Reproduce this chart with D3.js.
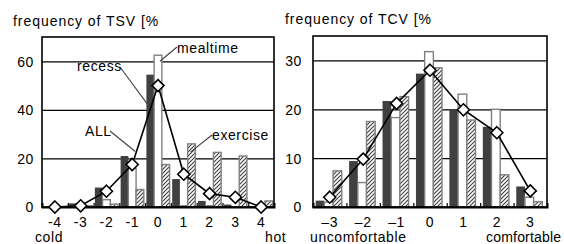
<!DOCTYPE html>
<html>
<head>
<meta charset="utf-8">
<script src="https://cdn.jsdelivr.net/npm/d3@7"></script>
<style>
  body { margin: 0; background: #fff; }
  svg { display: block; }
  text { font-family: "Liberation Sans", Arial, sans-serif; font-size: 14px; letter-spacing: 0.6px; fill: #000; }
  .title { letter-spacing: 0.95px; }
</style>
</head>
<body>
<div id="chart"></div>
<script>
// TSV chart (left)
var tsvCategories = ["-4", "-3", "-2", "-1", "0", "1", "2", "3", "4"];
var tsvRecess     = [0, 1.5, 8, 21, 54.5, 11.5, 2.5, 1, 0.3];
var tsvMealtime   = [0, 1, 3, 16, 62.5, 0.5, 0.5, 0, 0];
var tsvExercise   = [0, 0.5, 1.2, 7.2, 17.5, 26, 22.5, 21, 2.5];
var tsvAll        = [0, 0.5, 6.5, 17.5, 50, 13.5, 5.5, 4, 0];
var tsvTicks      = [0, 20, 40, 60];

// TCV chart (right)
var tcvCategories = ["\u20133", "\u20132", "\u20131", "0", "1", "2", "3"];
var tcvRecess     = [1.3, 9.4, 21.7, 27.3, 20, 16.4, 4.2];
var tcvMealtime   = [1, 5, 18.3, 31.8, 23.1, 20, 2];
var tcvExercise   = [7.4, 17.5, 22.6, 28.5, 17.8, 6.6, 1.1];
var tcvAll        = [2, 9.8, 21.2, 28, 19.9, 15.2, 3.3];
var tcvTicks      = [0, 10, 20, 30];

var width = 564, height = 244;

var svg = d3.select("#chart").append("svg")
    .attr("width", width)
    .attr("height", height);

var defs = svg.append("defs");

// diagonal hatch for "exercise"
var hatch = defs.append("pattern")
    .attr("id", "hatch")
    .attr("patternUnits", "userSpaceOnUse")
    .attr("width", 4)
    .attr("height", 4);
hatch.append("rect").attr("width", 4).attr("height", 4).attr("fill", "#fff");
hatch.append("path")
    .attr("d", "M-1,1 l2,-2 M0,4 l4,-4 M3,5 l2,-2")
    .attr("stroke", "#444")
    .attr("stroke-width", 1.2);

var diamond = "M0,-6L6,0L0,6L-6,0Z";

function drawChart(opt) {
  var g = svg.append("g");

  var x = d3.scaleBand()
      .domain(opt.categories)
      .range([opt.left, opt.right]);

  var y = d3.scaleLinear()
      .domain([0, opt.yMax])
      .range([opt.bottom, opt.top]);

  var barW = x.bandwidth() * opt.barFrac;

  // title, clipped like the original
  defs.append("clipPath").attr("id", "clip-" + opt.id)
    .append("rect")
      .attr("x", 0).attr("y", 0)
      .attr("width", opt.titleClip).attr("height", 40);

  g.append("text")
      .attr("class", "title")
      .attr("x", opt.titleX)
      .attr("y", opt.titleY)
      .attr("clip-path", "url(#clip-" + opt.id + ")")
      .text(opt.title);

  // gridlines
  g.append("g")
      .attr("transform", "translate(" + opt.left + ",0)")
      .call(d3.axisLeft(y)
        .tickValues(opt.ticks.filter(function(t) { return t > 0; }))
        .tickSize(-(opt.right - opt.left))
        .tickFormat(""))
      .call(function(a) {
        a.select(".domain").remove();
        a.selectAll("line").attr("stroke", "#000").attr("stroke-width", 1.3);
      });

  // y labels
  g.append("g")
      .attr("transform", "translate(" + opt.left + ",0)")
      .call(d3.axisLeft(y).tickValues(opt.ticks).tickSize(0).tickPadding(opt.yPad))
      .call(function(a) {
        a.select(".domain").remove();
        a.selectAll("text")
          .attr("font-size", 14)
          .attr("font-family", "Liberation Sans, Arial, sans-serif")
          .attr("dy", "0.35em");
      });

  var series = [
    { values: opt.recess, fill: "#404040", stroke: "none" },
    { values: opt.mealtime, fill: "#fff", stroke: "#808080" },
    { values: opt.exercise, fill: "url(#hatch)", stroke: "#808080" }
  ];

  series.forEach(function(s, k) {
    g.append("g").selectAll("rect")
        .data(s.values)
        .enter().append("rect")
        .attr("x", function(d, i) {
          return x(opt.categories[i]) + x.bandwidth() / 2 + (k - 1.5) * barW + opt.shift;
        })
        .attr("y", function(d) { return y(d); })
        .attr("width", barW)
        .attr("height", function(d) { return opt.bottom - y(d); })
        .attr("fill", s.fill)
        .attr("stroke", s.stroke)
        .attr("stroke-width", s.stroke === "none" ? 0 : 1.4);
  });

  // frame
  g.append("rect")
      .attr("x", opt.left)
      .attr("y", opt.top)
      .attr("width", opt.right - opt.left)
      .attr("height", opt.bottom - opt.top)
      .attr("fill", "none")
      .attr("stroke", "#000")
      .attr("stroke-width", 1.6);

  // inside tick marks between categories
  var bounds = d3.scaleLinear()
      .domain([0, opt.categories.length])
      .range([opt.left, opt.right]);
  g.append("g")
      .attr("transform", "translate(0," + opt.bottom + ")")
      .call(d3.axisBottom(bounds)
        .tickValues(d3.range(1, opt.categories.length))
        .tickSize(-4)
        .tickFormat(""))
      .call(function(a) {
        a.select(".domain").attr("stroke", "#000").attr("stroke-width", 2);
        a.selectAll("line").attr("stroke", "#000").attr("stroke-width", 1.2);
      });

  // category labels
  g.append("g")
      .attr("transform", "translate(0," + opt.bottom + ")")
      .call(d3.axisBottom(x).tickSize(0).tickPadding(10))
      .call(function(a) {
        a.select(".domain").remove();
        a.selectAll("text")
          .attr("font-size", 16)
          .attr("font-family", "Liberation Sans, Arial, sans-serif")
          .attr("dy", "0.71em");
      });

  // ALL line
  var line = d3.line()
      .x(function(d, i) { return x(opt.categories[i]) + x.bandwidth() / 2; })
      .y(function(d) { return y(d); });

  g.append("path")
      .datum(opt.all)
      .attr("d", line)
      .attr("fill", "none")
      .attr("stroke", "#000")
      .attr("stroke-width", 1.6);

  g.append("g").selectAll("path")
      .data(opt.all)
      .enter().append("path")
      .attr("d", diamond)
      .attr("transform", function(d, i) {
        return "translate(" + (x(opt.categories[i]) + x.bandwidth() / 2) + "," + y(d) + ")";
      })
      .attr("fill", "#fff")
      .attr("stroke", "#000")
      .attr("stroke-width", 1.6);

  // end labels under the axis
  opt.ends.forEach(function(e) {
    g.append("text")
        .attr("x", e.x)
        .attr("y", 242)
        .attr("text-anchor", e.anchor)
        .style("letter-spacing", e.spacing + "px")
        .text(e.text);
  });

  return { x: x, y: y, barW: barW };
}

var left = drawChart({
  id: "tsv",
  title: "frequency of TSV [%]",
  titleX: 13, titleY: 26, titleClip: 159,
  categories: tsvCategories,
  recess: tsvRecess, mealtime: tsvMealtime, exercise: tsvExercise, all: tsvAll,
  ticks: tsvTicks, yMax: 70,
  left: 42, right: 274, top: 37, bottom: 207,
  barFrac: 0.3, shift: 0, yPad: 8,
  ends: [{ text: "cold", x: 35, anchor: "start", spacing: 0.6 },
         { text: "hot", x: 265, anchor: "start", spacing: 0.6 }]
});

var right = drawChart({
  id: "tcv",
  title: "frequency of TCV [%]",
  titleX: 285, titleY: 24, titleClip: 432,
  categories: tcvCategories,
  recess: tcvRecess, mealtime: tcvMealtime, exercise: tcvExercise, all: tcvAll,
  ticks: tcvTicks, yMax: 35,
  left: 313, right: 547, top: 36, bottom: 207,
  barFrac: 0.26, shift: -1, yPad: 11,
  ends: [{ text: "uncomfortable", x: 310, anchor: "start", spacing: 0.6 },
         { text: "comfortable", x: 486, anchor: "start", spacing: 0.2 }]
});

// series callouts on the left chart
var lx = left.x, ly = left.y, lbw = left.barW;
var mid0 = lx("0") + lx.bandwidth() / 2;
var mid1 = lx("1") + lx.bandwidth() / 2;
var midm1 = lx("-1") + lx.bandwidth() / 2;

var callouts = [
  { text: "mealtime", tx: 177, ty: 53, x1: 177, y1: 47, x2: mid0 + 2, y2: ly(tsvMealtime[4]) + 6 },
  { text: "recess", tx: 77, ty: 71, x1: 120, y1: 67, x2: mid0 - lbw - 1, y2: ly(tsvRecess[4]) + 32 },
  { text: "ALL", tx: 85, ty: 136, x1: 110, y1: 131, x2: midm1 + 3, y2: ly(tsvAll[3]) - 13 },
  { text: "exercise", tx: 212, ty: 140, x1: 212, y1: 135, x2: mid1 + lbw * 0.9, y2: ly(tsvExercise[5]) + 8 }
];

callouts.forEach(function(c) {
  svg.append("line")
      .attr("x1", c.x1).attr("y1", c.y1)
      .attr("x2", c.x2).attr("y2", c.y2)
      .attr("stroke", "#404040")
      .attr("stroke-width", 1.1);
  svg.append("text")
      .attr("x", c.tx)
      .attr("y", c.ty)
      .text(c.text);
});
</script>
</body>
</html>
